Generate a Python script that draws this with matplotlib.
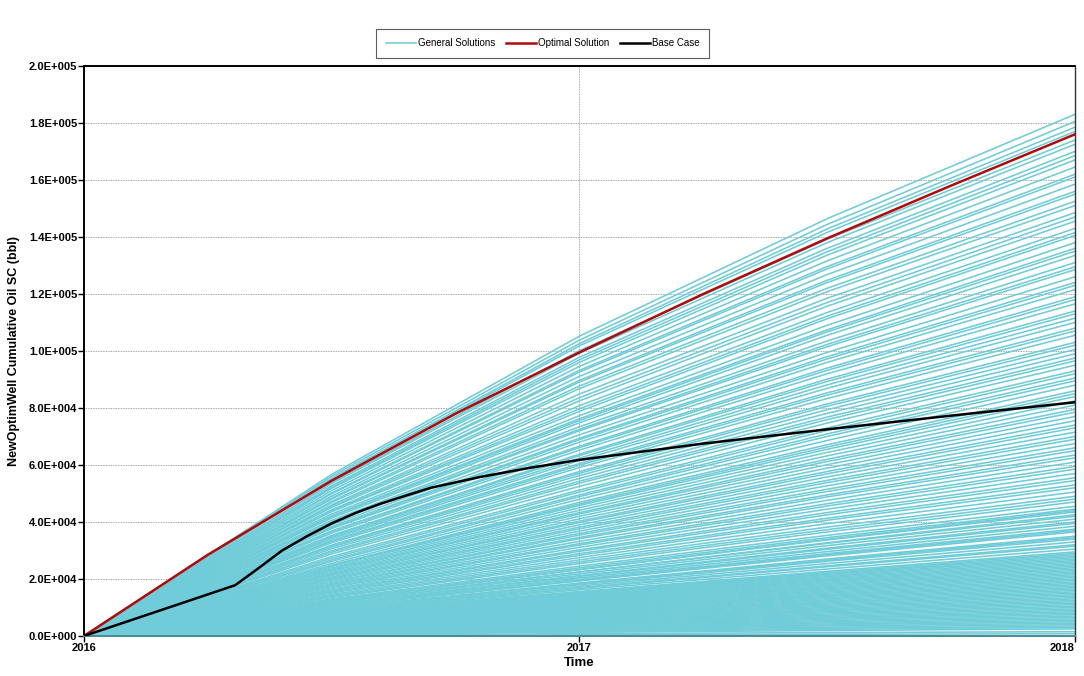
import numpy as np
import matplotlib
matplotlib.use("Agg")
import matplotlib.pyplot as plt
from matplotlib.ticker import FuncFormatter

plt.rcParams['font.family'] = ['Liberation Sans', 'DejaVu Sans']

# time points (years) for the general solutions
years = [2016.0, 2016.5, 2017.0, 2017.5, 2018.0]

# general solutions, cumulative oil in thousand bbl at each time point
cum_2018 = [183.0, 180.5, 178.5, 177.0, 174.0, 172.5, 170.0, 168.5, 167.0, 164.5, 162.0, 161.0, 158.5, 156.0, 155.0, 152.5, 151.0,
            148.5, 147.0, 145.5, 143.0, 141.5, 140.5, 138.0, 136.0, 135.0, 133.5, 131.0, 129.5, 128.5, 126.0, 124.0, 123.0,
            121.5, 119.0, 118.0, 116.5, 114.0, 113.0, 111.5, 110.0, 108.0, 107.0, 105.5, 103.0, 102.0, 100.5,
            99.0, 97.5, 96.5, 95.0, 93.0, 92.0, 90.5, 89.5, 88.0, 86.0, 85.0, 84.0, 82.5, 81.0, 79.5, 78.5, 77.0, 75.5,
            74.0, 73.0, 71.5, 70.0, 69.0, 67.5, 66.0, 65.0, 63.5, 62.5, 61.0, 59.5, 58.5, 57.0, 55.5, 54.5, 53.0, 52.0, 50.5,
            49.0, 48.0, 47.0, 45.5, 44.5, 43.5, 42.0, 41.0, 40.0, 38.5, 37.5, 36.5, 35.0, 34.0, 33.0, 32.0, 30.5, 29.5,
            28.5, 27.5, 26.5, 25.5, 24.5, 23.5, 22.5, 21.5, 20.5, 19.5, 18.5, 17.5, 16.5, 15.5, 14.5, 13.5, 12.5, 11.5,
            10.5, 9.5, 8.5, 7.5, 6.5, 5.5, 4.5, 3.5, 2.5,
            29.0, 28.0, 27.0, 26.0, 25.0, 24.0, 23.0, 22.0, 21.0, 20.0, 19.0, 18.0, 17.0, 16.0,
            15.0, 14.0, 13.0, 12.0, 11.0, 10.0, 9.0, 8.0, 7.0, 6.0, 5.0, 4.0, 3.0,
            44.0, 42.5, 39.5, 37.0, 34.5, 31.5, 1.5, 0.8]
cum_2017_5 = [146.4, 144.4, 142.8, 141.6, 139.2, 138.0, 136.0, 134.8, 133.6, 131.6, 129.6, 128.8, 126.8, 124.8, 124.0, 122.0, 120.8,
              118.5, 117.0, 115.7, 113.5, 112.2, 111.3, 109.0, 107.4, 106.7, 105.5, 103.5, 102.3, 101.5, 99.5, 98.0, 97.2,
              96.0, 94.0, 93.2, 92.0, 90.1, 89.3, 88.1, 86.9, 85.3, 84.5, 83.3, 81.4, 80.6, 79.4,
              78.1, 76.8, 75.9, 74.7, 73.0, 72.1, 70.9, 70.0, 68.6, 67.1, 66.3, 65.5, 64.4, 63.2, 62.0, 61.2, 60.1, 58.9,
              57.7, 56.9, 55.8, 54.6, 53.8, 52.7, 51.5, 50.7, 49.5, 48.8, 47.6, 46.4, 45.6, 44.5, 43.3, 42.5, 41.3, 40.6, 39.4,
              38.2, 37.3, 36.5, 35.3, 34.5, 33.7, 32.5, 31.7, 30.8, 29.6, 28.9, 28.1, 27.0, 26.2, 25.4, 24.6, 23.5, 22.7,
              21.9, 21.2, 20.4, 19.6, 18.9, 18.1, 17.3, 16.6, 15.8, 15.0, 14.2, 13.5, 12.7, 11.9, 11.2, 10.4, 9.6, 8.9,
              8.1, 7.3, 6.5, 5.8, 5.0, 4.2, 3.5, 2.7, 1.9,
              22.3, 21.6, 20.8, 20.0, 19.3, 18.5, 17.7, 16.9, 16.2, 15.4, 14.6, 13.9, 13.1, 12.3,
              11.6, 10.8, 10.0, 9.2, 8.5, 7.7, 6.9, 6.2, 5.4, 4.6, 3.9, 3.1, 2.3,
              33.9, 32.7, 30.4, 28.5, 26.6, 24.3, 1.2, 0.6]
cum_2017 = [105.2, 103.8, 102.6, 101.8, 100.1, 99.2, 97.8, 96.9, 96.0, 94.6, 93.2, 92.6, 91.1, 89.7, 89.1, 87.7, 86.8,
            84.9, 83.6, 82.5, 80.8, 79.7, 78.8, 77.3, 76.2, 75.6, 74.8, 73.4, 72.5, 72.0, 70.6, 69.4, 68.9,
            68.0, 66.6, 66.1, 65.2, 63.8, 63.3, 62.4, 61.6, 60.5, 59.9, 59.1, 57.7, 57.1, 56.3,
            55.3, 54.3, 53.6, 52.5, 51.2, 50.5, 49.5, 48.9, 48.0, 46.9, 46.3, 45.8, 45.0, 44.1, 43.3, 42.8, 42.0, 41.1,
            40.3, 39.8, 39.0, 38.2, 37.6, 36.8, 36.0, 35.4, 34.6, 34.1, 33.2, 32.4, 31.9, 31.1, 30.2, 29.7, 28.9, 28.3, 27.5,
            26.7, 26.0, 25.4, 24.5, 23.9, 23.3, 22.4, 21.8, 21.2, 20.4, 19.9, 19.3, 18.6, 18.0, 17.5, 17.0, 16.2, 15.6,
            15.1, 14.6, 14.0, 13.5, 13.0, 12.5, 11.9, 11.4, 10.9, 10.3, 9.8, 9.3, 8.7, 8.2, 7.7, 7.2, 6.6, 6.1,
            5.6, 5.0, 4.5, 4.0, 3.4, 2.9, 2.4, 1.9, 1.3,
            15.4, 14.8, 14.3, 13.8, 13.3, 12.7, 12.2, 11.7, 11.1, 10.6, 10.1, 9.5, 9.0, 8.5,
            8.0, 7.4, 6.9, 6.4, 5.8, 5.3, 4.8, 4.2, 3.7, 3.2, 2.7, 2.1, 1.6,
            23.3, 22.5, 20.9, 19.6, 18.3, 16.7, 0.8, 0.4]
cum_2016_5 = [56.7, 56.0, 55.3, 54.9, 53.9, 53.5, 52.7, 52.2, 51.8, 51.0, 50.2, 49.9, 49.1, 48.4, 48.1, 47.3, 46.8,
              46.0, 45.6, 45.1, 44.3, 43.9, 43.6, 42.8, 42.2, 41.9, 41.4, 40.6, 40.1, 39.8, 39.1, 38.4, 38.1,
              37.7, 36.9, 36.6, 36.1, 35.3, 35.0, 34.6, 34.1, 33.5, 33.2, 32.7, 31.9, 31.6, 31.2,
              30.6, 29.9, 29.4, 28.8, 27.9, 27.3, 26.7, 26.2, 25.5, 24.9, 24.7, 24.4, 23.9, 23.5, 23.1, 22.8, 22.3, 21.9,
              21.5, 21.2, 20.7, 20.3, 20.0, 19.6, 19.1, 18.9, 18.4, 18.1, 17.7, 17.3, 17.0, 16.5, 16.1, 15.8, 15.4, 15.1, 14.6,
              14.2, 13.8, 13.5, 13.0, 12.7, 12.4, 11.9, 11.6, 11.2, 10.8, 10.5, 10.2, 9.8, 9.5, 9.2, 9.0, 8.5, 8.3,
              8.0, 7.7, 7.4, 7.1, 6.9, 6.6, 6.3, 6.0, 5.7, 5.5, 5.2, 4.9, 4.6, 4.3, 4.1, 3.8, 3.5, 3.2,
              2.9, 2.7, 2.4, 2.1, 1.8, 1.5, 1.3, 1.0, 0.7,
              8.1, 7.8, 7.6, 7.3, 7.0, 6.7, 6.4, 6.2, 5.9, 5.6, 5.3, 5.0, 4.8, 4.5,
              4.2, 3.9, 3.6, 3.4, 3.1, 2.8, 2.5, 2.2, 2.0, 1.7, 1.4, 1.1, 0.8,
              12.3, 11.9, 11.1, 10.4, 9.7, 8.8, 0.4, 0.2]

# optimal solution (thousand bbl)
opt_years = [2016.0, 2016.25, 2016.5, 2016.75, 2017.0, 2017.25, 2017.5, 2017.75, 2018.0]
opt_cum = [0.0, 28.5, 54.5, 78.0, 99.5, 120.0, 139.5, 158.0, 176.0]

# base case (thousand bbl)
base_years = [2016.0, 2016.305, 2016.35, 2016.4, 2016.45, 2016.5, 2016.55, 2016.6, 2016.7, 2016.8, 2016.9,
              2017.0, 2017.25, 2017.5, 2017.75, 2018.0]
base_cum = [0.0, 17.8, 23.5, 30.0, 35.0, 39.5, 43.3, 46.5, 52.0, 55.8, 59.0,
            61.8, 67.5, 72.5, 77.3, 82.0]

cyan = '#70CCD8'

fig = plt.figure(figsize=(10.84, 6.76), dpi=100)
ax = fig.add_axes([0.0775, 0.0592, 0.914, 0.8432])

general = np.column_stack([np.zeros(len(cum_2018)), cum_2016_5, cum_2017, cum_2017_5, cum_2018]) * 1000
for i, row in enumerate(general):
    ax.plot(years, row, color=cyan, lw=1.15, zorder=2,
            label='General Solutions' if i == 0 else None)

ax.plot(opt_years, np.array(opt_cum) * 1000, color='#B00A0A', lw=1.8, zorder=3, label='Optimal Solution')
ax.plot(base_years, np.array(base_cum) * 1000, color='black', lw=1.8, zorder=4, label='Base Case')

ax.set_xlim(2016, 2018)
ax.set_ylim(0, 2.0e5)
ax.set_xticks([2016, 2017, 2018])
ax.set_xticklabels(['2016', '2017', '2018'])
ax.set_yticks(np.arange(0, 2.01e5, 2.0e4))


def sci_fmt(v, pos):
    if v == 0:
        return '0.0E+000'
    e = int(np.floor(np.log10(abs(v))))
    return f'{v / 10 ** e:.1f}E+{e:03d}'


ax.yaxis.set_major_formatter(FuncFormatter(sci_fmt))
for lab in ax.get_xticklabels() + ax.get_yticklabels():
    lab.set_fontweight('bold')
    lab.set_fontsize(8)
ax.get_xticklabels()[-1].set_horizontalalignment('right')
ax.tick_params(direction='out', length=4, width=1, pad=1)

ax.set_axisbelow(True)
ax.grid(True, linestyle=(0, (1, 1)), color='#888888', lw=0.6)

for s in ['left', 'top']:
    ax.spines[s].set_linewidth(1.4)
    ax.spines[s].set_color('black')
ax.spines['bottom'].set_linewidth(1.4)
ax.spines['bottom'].set_color('#4a8a90')
ax.spines['right'].set_linewidth(1.0)
ax.spines['right'].set_color('#333333')

ax.set_xlabel('Time', fontweight='bold', fontsize=9.5, labelpad=3)
ax.set_ylabel('NewOptimWell Cumulative Oil SC (bbl)', fontweight='bold', fontsize=9, labelpad=6)

leg = fig.legend(loc='center', bbox_to_anchor=(0.5005, 0.936), ncol=3, fontsize=7,
                 frameon=True, fancybox=False, edgecolor='#333333', handlelength=3.1,
                 columnspacing=1.1, handletextpad=0.2, borderpad=1.0, borderaxespad=0)
leg.get_frame().set_linewidth(0.8)

fig.savefig('out.png', dpi=100)
